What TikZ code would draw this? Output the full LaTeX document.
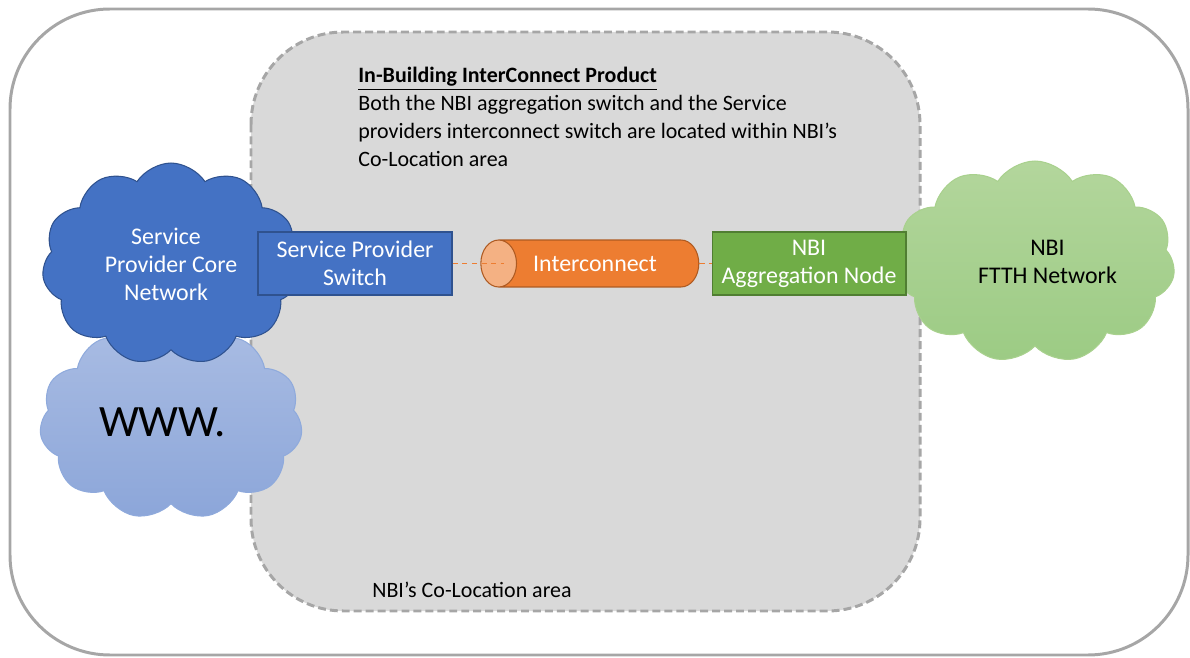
\documentclass[tikz,border=0pt]{standalone}
\usepackage{fontspec}
\setmainfont{Carlito}
\usetikzlibrary{shapes.symbols,shapes.geometric}

\definecolor{frameGray}{HTML}{A6A6A6}
\definecolor{areaGray}{HTML}{D9D9D9}
\definecolor{spBlue}{HTML}{4472C4}
\definecolor{spBlueDark}{HTML}{2F528F}
\definecolor{wwwTop}{HTML}{A9BCE3}
\definecolor{wwwBottom}{HTML}{8CA6D9}
\definecolor{wwwLine}{HTML}{8FAADC}
\definecolor{ftthTop}{HTML}{B3D69C}
\definecolor{ftthBottom}{HTML}{9CCB84}
\definecolor{ftthLine}{HTML}{A9D18E}
\definecolor{icOrange}{HTML}{ED7D31}
\definecolor{icLight}{HTML}{F4B183}
\definecolor{icDark}{HTML}{AE5A21}
\definecolor{nbiGreen}{HTML}{70AD47}
\definecolor{nbiGreenDark}{HTML}{507E32}

\tikzset{
  nodefont/.style={font=\fontsize{13.6}{15.9}\selectfont, align=center},
  netcloud/.style={cloud, cloud puffs=11, cloud puff arc=115, cloud ignores aspect,
    inner sep=0pt, line width=0.6pt, nodefont},
  swbox/.style={rectangle, minimum width=3.88cm, minimum height=1.26cm,
    line width=0.6pt, text=white, nodefont},
  link/.style={draw=icOrange, line width=1pt, dash pattern=on 3pt off 2.5pt},
}

\begin{document}
\begin{tikzpicture}[x=0.02cm, y=-0.02cm]
        \useasboundingbox (0,0) rectangle (1190,658);
        % frame and co-location area
        \draw [frameGray, line width=1.7pt, rounded corners=2cm] (10,9) rectangle (1188,655);
        \draw [frameGray, fill=areaGray, line width=1.7pt, dash pattern=on 4.5pt off 2.3pt,
               rounded corners=1.85cm] (251,32) rectangle (920,611);
        % clouds
        \node [netcloud, draw=wwwLine, top color=wwwTop, bottom color=wwwBottom,
               minimum width=5.26cm, minimum height=3.9cm]
               (www) at (171,422) {\fontsize{25.5}{28}\selectfont WWW.\hspace*{0.35cm}};
        \node [netcloud, draw=spBlueDark, fill=spBlue, text=white,
               minimum width=5.16cm, minimum height=4.04cm]
               (core) at (171,264) {Service\hspace*{0.2cm}\\Provider Core\hspace*{0.2cm}\\Network\hspace*{0.2cm}};
        \node [netcloud, draw=ftthLine, top color=ftthTop, bottom color=ftthBottom,
               minimum width=5.6cm, minimum height=4.04cm]
               (ftth) at (1035,262) {\hspace*{0.5cm}NBI\\\hspace*{0.5cm}FTTH Network};
        % switches and interconnect
        \node [swbox, draw=spBlueDark, fill=spBlue] (sw) at (355,263.5) {Service Provider\\Switch};
        \node [swbox, draw=nbiGreenDark, fill=nbiGreen] (nbi) at (809,263.5) {NBI\\Aggregation Node};
        \node [cylinder, shape border rotate=180, shape aspect=2.3, draw=icDark,
               line width=0.6pt, cylinder uses custom fill, cylinder body fill=icOrange,
               cylinder end fill=icLight, minimum width=0.94cm, minimum height=4.36cm,
               inner sep=0pt, text=white, nodefont]
               (ic) at (599,263.5) {Interconnect\hspace*{0.16cm}};
        \draw [link] (sw.east) -- ([xshift=-1.9cm]ic.center);
        \draw [link] (ic.east) -- (nbi.west);
        % texts
        \node [anchor=north west, inner sep=0pt, align=left,
               font=\fontsize{12.5}{15.9}\selectfont] (title) at (358,67)
               {\underline{\textbf{In-Building InterConnect Product}}\\
                Both the NBI aggregation switch and the Service\\
                providers interconnect switch are located within NBI’s\\
                Co-Location area};
        \node [anchor=west, inner sep=0pt, font=\fontsize{12.5}{15.5}\selectfont]
               (area) at (372,590) {NBI’s Co-Location area};
\end{tikzpicture}
\end{document}
